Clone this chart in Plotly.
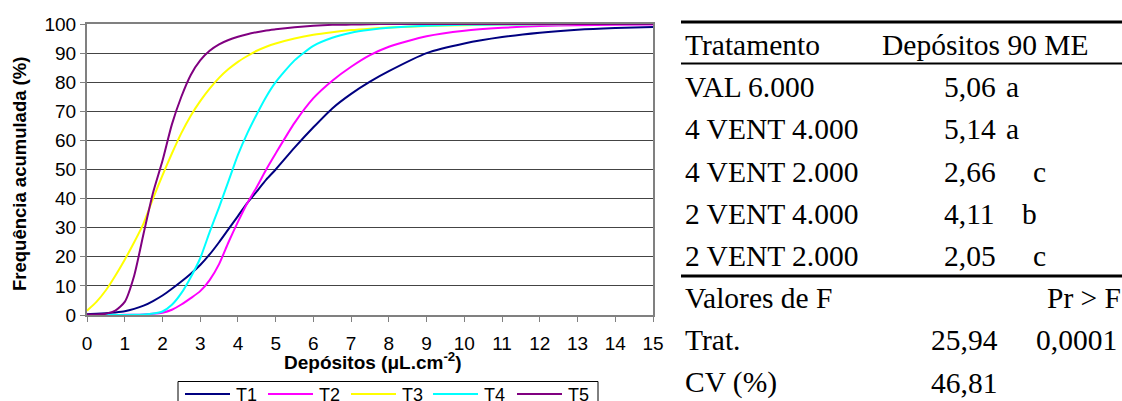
import plotly.graph_objects as go

# ---------------- data ----------------
x_dep = [0, 0.25, 0.5, 0.75, 1, 1.25, 1.5, 1.75, 2, 2.25, 2.5, 2.75, 3, 3.25, 3.5, 3.75,
         4, 4.25, 4.5, 4.75, 5, 5.5, 6, 6.5, 7, 7.5, 8, 9, 10, 11, 12, 13, 14, 15]

T1 = [0.3, 0.4, 0.6, 0.9, 1.3, 2.1, 3.2, 4.8, 6.7, 9.0, 11.5, 14.2, 17.2, 20.8, 25.0, 29.5,
      34.0, 38.5, 42.5, 46.5, 50.0, 57.5, 64.5, 71.0, 76.0, 80.2, 83.8, 90.0, 93.3, 95.5, 97.0, 98.0, 98.6, 99.0]
T2 = [0, 0, 0, 0, 0.05, 0.1, 0.2, 0.4, 0.8, 1.8, 3.6, 5.8, 8.2, 12.0, 17.5, 25.0,
      32.0, 38.5, 44.0, 50.0, 55.5, 66.0, 74.5, 80.5, 85.3, 89.3, 92.2, 95.8, 97.7, 98.7, 99.3, 99.6, 99.7, 99.8]
T3 = [1.5, 4.5, 8.5, 13.5, 19.0, 25.0, 31.5, 40.0, 48.0, 55.5, 62.5, 68.5, 73.5, 77.8, 81.5, 84.5,
      87.0, 89.0, 90.8, 92.2, 93.3, 95.0, 96.3, 97.2, 97.9, 98.4, 98.8, 99.3, 99.6, 99.8, 99.9, 100, 100, 100]
T4 = [0, 0, 0, 0, 0, 0.05, 0.2, 0.5, 1.2, 3.5, 7.5, 13.0, 19.5, 28.5, 37.0, 46.0,
      55.0, 62.5, 69.0, 75.0, 80.0, 87.5, 92.5, 95.3, 97.0, 98.0, 98.7, 99.4, 99.7, 99.8, 99.9, 100, 100, 100]
T5 = [0.2, 0.2, 0.4, 1.5, 4.5, 13.5, 28.0, 42.0, 53.0, 65.5, 75.0, 82.5, 87.5, 90.8, 93.0, 94.5,
      95.6, 96.5, 97.2, 97.8, 98.2, 98.9, 99.4, 99.7, 99.8, 99.9, 100, 100, 100, 100, 100, 100, 100, 100]

series_names = ["T1", "T2", "T3", "T4", "T5"]
series_colors = ["#000080", "#FF00FF", "#FFFF00", "#00FFFF", "#800080"]
series_values = [T1, T2, T3, T4, T5]

x_ticks = list(range(0, 16))
y_ticks = list(range(0, 101, 10))

# table (right side)
tab_header = ["Tratamento", "Depósitos 90 ME"]
tab_treat = ["VAL 6.000", "4 VENT 4.000", "4 VENT 2.000", "2 VENT 4.000", "2 VENT 2.000"]
tab_means = ["5,06", "5,14", "2,66", "4,11", "2,05"]
tab_letters = ["a", "a", "c", "b", "c"]
tab_stats_labels = ["Valores de F", "Trat.", "CV (%)"]
tab_pr_label = "Pr &gt; F"
tab_f_value = "25,94"
tab_pr_value = "0,0001"
tab_cv_value = "46,81"

# ---------------- layout geometry ----------------
W, H = 1122, 401
PL, PR, PT, PB = 87, 653, 24, 315   # plot area in pixels


def px_x(px):
    return (px - PL) / (PR - PL)


def px_y(py):
    return (PB - py) / (PB - PT)


SANS = "Liberation Sans, Arial, sans-serif"
SERIF = "Liberation Serif, Times New Roman, serif"

fig = go.Figure()
for name, col, vals in zip(series_names, series_colors, series_values):
    fig.add_trace(go.Scatter(x=x_dep, y=vals, mode="lines", name=name, showlegend=False,
                             line=dict(color=col, width=2, shape="spline", smoothing=0.6)))

fig.update_xaxes(range=[0, 15], tickvals=x_ticks, ticks="outside", ticklen=5, tickcolor="#808080",
                 showline=True, linecolor="#808080", linewidth=2, mirror=True, showgrid=False,
                 zeroline=False, ticklabelstandoff=5,
                 tickfont=dict(family=SANS, size=19, color="black"))
fig.update_yaxes(range=[0, 100], tickvals=y_ticks, ticks="outside", ticklen=5, tickcolor="#808080",
                 showline=True, linecolor="#808080", linewidth=2, mirror=True, showgrid=True,
                 gridcolor="#444444", gridwidth=1, zeroline=False,
                 tickfont=dict(family=SANS, size=19, color="black"))

annotations = []
shapes = []
# axis titles
annotations.append(dict(text="<b>Depósitos (μL.cm<sup>-2</sup>)</b>", xref="paper", yref="paper",
                        x=px_x(373), y=px_y(361), xanchor="center", yanchor="middle", showarrow=False,
                        font=dict(family=SANS, size=19, color="black")))
annotations.append(dict(text="<b>Frequência acumulada (%)</b>", xref="paper", yref="paper",
                        x=px_x(20), y=px_y(174), xanchor="center", yanchor="middle", showarrow=False,
                        textangle=-90, font=dict(family=SANS, size=18.5, color="black")))

# legend (boxed, horizontal, partly cut by the bottom edge as in the reference)
shapes.append(dict(type="rect", xref="paper", yref="paper", x0=px_x(178), x1=px_x(598),
                   y0=px_y(381.5), y1=px_y(415), line=dict(color="black", width=1), fillcolor="white"))
leg_line_x0 = [185, 268, 351, 433, 517]
for name, col, lx in zip(series_names, series_colors, leg_line_x0):
    shapes.append(dict(type="line", xref="paper", yref="paper", x0=px_x(lx), x1=px_x(lx + 45),
                       y0=px_y(394), y1=px_y(394), line=dict(color=col, width=2)))
    annotations.append(dict(text=name, xref="paper", yref="paper", x=px_x(lx + 49), y=px_y(395),
                            xanchor="left", yanchor="middle", showarrow=False,
                            font=dict(family=SANS, size=18, color="black")))

# table text
ROW0 = 45
ROWH = 42.2
LEFT = 683
tfont = dict(family=SERIF, size=29.5, color="black")


def tab_text(text, px, row, anchor="left"):
    annotations.append(dict(text=text, xref="paper", yref="paper", x=px_x(px), y=px_y(ROW0 + row * ROWH),
                            xanchor=anchor, yanchor="middle", showarrow=False, font=tfont))


tab_text(tab_header[0], LEFT, 0)
tab_text(tab_header[1], 880, 0)
letter_x = {"a": 1004, "b": 1020, "c": 1031}
for i, (t, m, l) in enumerate(zip(tab_treat, tab_means, tab_letters)):
    tab_text(t, LEFT, i + 1)
    tab_text(m, 942, i + 1)
    tab_text(l, letter_x[l], i + 1)
tab_text(tab_stats_labels[0], LEFT, 6)
tab_text(tab_pr_label, 1123, 6, anchor="right")
tab_text(tab_stats_labels[1], LEFT, 7)
tab_text(tab_f_value, 929, 7)
tab_text(tab_pr_value, 1119, 7, anchor="right")
tab_text(tab_stats_labels[2], LEFT, 8)
tab_text(tab_cv_value, 929, 8)

for yy, wd in [(22, 3), (63.5, 2), (276, 3)]:
    shapes.append(dict(type="line", xref="paper", yref="paper", x0=px_x(681), x1=px_x(1122),
                       y0=px_y(yy), y1=px_y(yy), line=dict(color="black", width=wd)))

fig.update_layout(
    width=W, height=H,
    margin=dict(l=PL, r=W - PR, t=PT, b=H - PB, autoexpand=False),
    paper_bgcolor="white", plot_bgcolor="white",
    showlegend=False,
    annotations=annotations,
    shapes=shapes,
)

fig.write_html("out.html")
